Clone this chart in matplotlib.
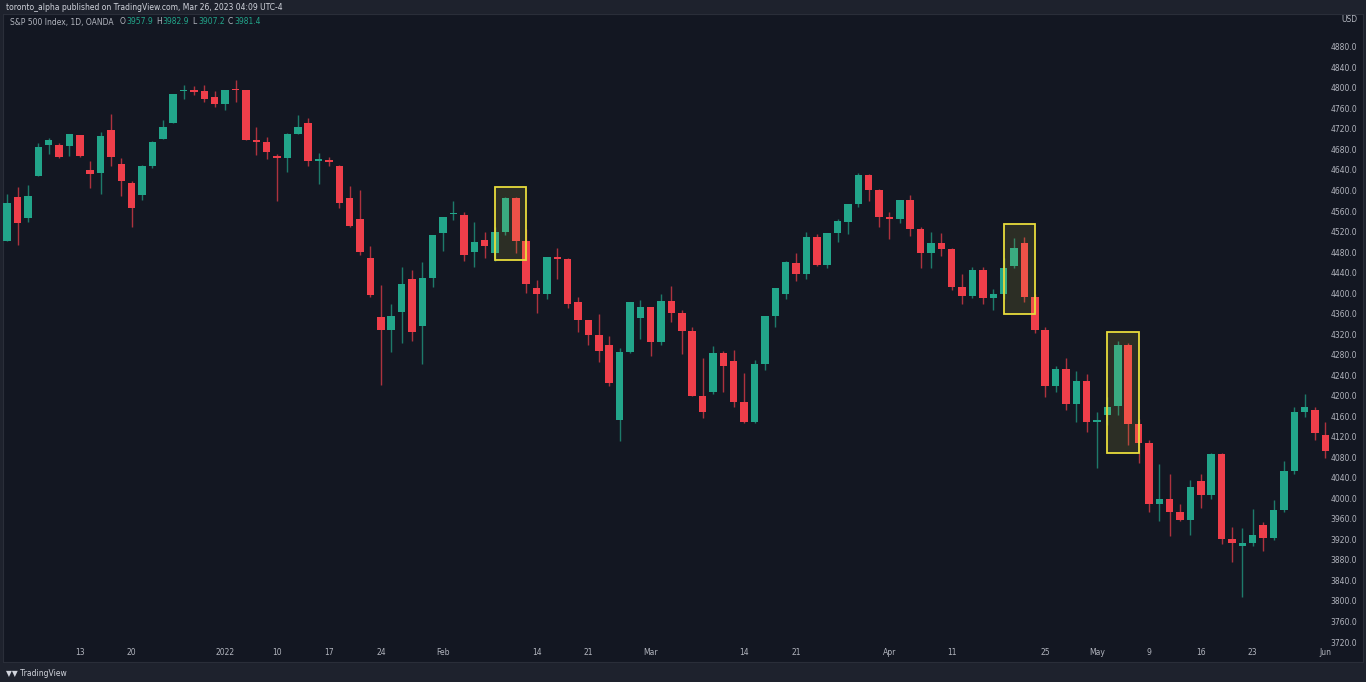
import matplotlib
matplotlib.use("Agg")
import matplotlib.pyplot as plt
import pandas as pd
from matplotlib.patches import Rectangle

dates = ["2021-12-02","2021-12-03","2021-12-06","2021-12-07","2021-12-08","2021-12-09","2021-12-10",
"2021-12-13","2021-12-14","2021-12-15","2021-12-16","2021-12-17","2021-12-20","2021-12-21","2021-12-22","2021-12-23",
"2021-12-27","2021-12-28","2021-12-29","2021-12-30","2021-12-31",
"2022-01-03","2022-01-04","2022-01-05","2022-01-06","2022-01-07","2022-01-10","2022-01-11","2022-01-12","2022-01-13","2022-01-14",
"2022-01-17","2022-01-18","2022-01-19","2022-01-20","2022-01-21","2022-01-24","2022-01-25","2022-01-26","2022-01-27","2022-01-28","2022-01-31",
"2022-02-01","2022-02-02","2022-02-03","2022-02-04","2022-02-07","2022-02-08","2022-02-09","2022-02-10","2022-02-11",
"2022-02-14","2022-02-15","2022-02-16","2022-02-17","2022-02-18","2022-02-21","2022-02-22","2022-02-23","2022-02-24","2022-02-25","2022-02-28",
"2022-03-01","2022-03-02","2022-03-03","2022-03-04","2022-03-07","2022-03-08","2022-03-09","2022-03-10","2022-03-11",
"2022-03-14","2022-03-15","2022-03-16","2022-03-17","2022-03-18","2022-03-21","2022-03-22","2022-03-23","2022-03-24","2022-03-25",
"2022-03-28","2022-03-29","2022-03-30","2022-03-31","2022-04-01","2022-04-04","2022-04-05","2022-04-06","2022-04-07","2022-04-08",
"2022-04-11","2022-04-12","2022-04-13","2022-04-14","2022-04-18","2022-04-19","2022-04-20","2022-04-21","2022-04-22",
"2022-04-25","2022-04-26","2022-04-27","2022-04-28","2022-04-29","2022-05-02","2022-05-03","2022-05-04","2022-05-05","2022-05-06",
"2022-05-09","2022-05-10","2022-05-11","2022-05-12","2022-05-13","2022-05-16","2022-05-17","2022-05-18","2022-05-19","2022-05-20",
"2022-05-23","2022-05-24","2022-05-25","2022-05-26","2022-05-27","2022-05-30","2022-05-31","2022-06-01"]

ohlc = [
(4504,4595,4504,4577),(4589,4608,4495,4538),(4548,4612,4540,4591),(4631,4694,4631,4686),(4690,4705,4674,4701),
(4691,4695,4665,4667),(4688,4713,4670,4712),(4710,4710,4667,4669),(4642,4660,4606,4634),(4637,4716,4596,4709),
(4719,4752,4650,4668),(4653,4666,4592,4620),(4617,4620,4531,4568),(4594,4651,4583,4649),(4650,4698,4645,4697),
(4703,4740,4703,4726),(4733,4791,4733,4791),(4795,4807,4780,4797),(4798,4805,4788,4793),(4795,4808,4775,4780),
(4785,4795,4765,4770),(4770,4796,4758,4797),(4800,4818,4774,4797),(4797,4797,4700,4701),(4700,4725,4671,4696),
(4697,4707,4663,4677),(4670,4673,4582,4665),(4665,4714,4638,4713),(4713,4749,4712,4726),(4733,4744,4650,4659),
(4660,4675,4614,4663),(4662,4668,4650,4657),(4650,4652,4568,4577),(4588,4611,4530,4533),(4547,4602,4477,4483),
(4471,4494,4395,4398),(4356,4417,4222,4330),(4330,4380,4287,4357),(4365,4453,4304,4420),(4430,4448,4309,4327),
(4337,4462,4264,4432),(4431,4516,4414,4516),(4519,4551,4484,4550),(4556,4582,4545,4558),(4555,4560,4465,4477),
(4482,4540,4452,4501),(4505,4521,4471,4494),(4480,4531,4465,4521),(4521,4590,4515,4587),(4587,4590,4480,4504),
(4504,4527,4402,4419),(4412,4427,4364,4401),(4401,4472,4390,4472),(4472,4490,4430,4468),(4468,4470,4373,4380),
(4384,4394,4327,4349),(4349,4350,4300,4320),(4320,4362,4267,4290),(4300,4319,4221,4226),(4155,4295,4114,4288),
(4288,4385,4286,4385),(4354,4388,4312,4374),(4374,4375,4279,4306),(4306,4401,4300,4387),(4387,4416,4345,4363),
(4363,4370,4284,4329),(4329,4335,4201,4201),(4202,4276,4158,4171),(4210,4299,4205,4285),(4285,4290,4209,4260),
(4270,4291,4180,4190),(4190,4247,4148,4150),(4150,4271,4148,4263),(4263,4358,4253,4358),(4358,4412,4335,4412),
(4400,4465,4390,4463),(4460,4481,4425,4440),(4440,4522,4430,4512),(4512,4518,4455,4456),(4456,4520,4450,4520),
(4520,4546,4501,4543),(4541,4575,4517,4575),(4575,4637,4570,4632),(4632,4635,4581,4602),(4602,4605,4530,4550),
(4550,4560,4507,4546),(4546,4583,4539,4583),(4583,4593,4514,4526),(4526,4530,4450,4481),(4481,4521,4450,4500),
(4500,4520,4474,4488),(4488,4490,4408,4413),(4413,4440,4381,4397),(4397,4453,4392,4447),(4447,4452,4381,4392),
(4392,4410,4370,4400),(4400,4471,4390,4450),(4455,4510,4450,4490),(4500,4512,4384,4394),(4394,4400,4325,4330),
(4330,4335,4200,4220),(4220,4260,4210,4255),(4255,4275,4175,4185),(4185,4250,4150,4230),(4230,4245,4132,4150),
(4150,4170,4062,4155),(4165,4200,4145,4180),(4181,4308,4164,4300),(4300,4305,4106,4147),(4147,4157,4070,4110),
(4110,4115,3975,3991),(3991,4068,3958,4001),(4001,4050,3928,3975),(3975,3990,3958,3960),(3960,4038,3930,4024),
(4035,4050,3984,4008),(4008,4090,4000,4088),(4088,4090,3913,3923),(3923,3946,3877,3915),(3910,3944,3810,3915),
(3915,3981,3909,3930),(3950,3956,3900,3925),(3925,3999,3920,3979),(3979,4075,3975,4055),(4055,4180,4050,4170),
(4170,4205,4160,4180),(4175,4180,4115,4130),(4125,4150,4080,4095),
]

tick_labels = ["13","20","2022","10","17","24","Feb","14","21","Mar","14","21","Apr","11","25","May","9","16","23","Jun"]
tick_dates = ["2021-12-13","2021-12-20","2022-01-03","2022-01-10","2022-01-17","2022-01-24","2022-02-01","2022-02-14",
              "2022-02-21","2022-03-01","2022-03-14","2022-03-21","2022-04-01","2022-04-11","2022-04-25","2022-05-02",
              "2022-05-09","2022-05-16","2022-05-23","2022-06-01"]
price_ticks = list(range(3720, 4881, 40))
box_starts = ["2022-02-08","2022-04-19","2022-05-03"]
box_ranges = [(4467,4608),(4362,4536),(4090,4326)]

df = pd.DataFrame(ohlc, columns=["o","h","l","c"], index=pd.to_datetime(dates))
pos = {d: i for i, d in enumerate(df.index)}

UP, DN, BG, OUT, TXT = "#22a58a", "#ef3e4a", "#131722", "#1e222d", "#b2b5be"
fig = plt.figure(figsize=(13.66, 6.82), dpi=100, facecolor=OUT)
W = 1360
ax = fig.add_axes([3/1366, 20/682, W/1366, 648/682], facecolor=BG)
for i, (o, h, l, c) in enumerate(df.itertuples(index=False)):
    col = UP if c >= o else DN
    ax.vlines(i, l, h, color=col, lw=1, alpha=0.7, zorder=2)
    ax.add_patch(Rectangle((i-0.36, min(o, c)), 0.72, max(abs(c-o), 2.5), color=col, lw=0, zorder=3))
for s, (lo, hi) in zip(box_starts, box_ranges):
    i0 = pos[pd.Timestamp(s)]
    ax.add_patch(Rectangle((i0, lo), 3, hi-lo, fill=True, fc="#e8dc3c", alpha=0.12, lw=0, zorder=4))
    ax.add_patch(Rectangle((i0, lo), 3, hi-lo, fill=False, ec="#e8dc3c", lw=1.3, zorder=5))
ax.set_xlim(-0.4, -0.4 + W/10.38)
ax.set_ylim(3683, 4946)
ax.set_xticks([]); ax.set_yticks([])
for sp in ax.spines.values():
    sp.set_color("#2a2e39")
xr = 1357/1363
for p in price_ticks:
    ax.text(xr, p, f"{p:.1f}", transform=ax.get_yaxis_transform(), ha="right", va="center", fontsize=5.5, color=TXT)
ax.text(xr, 4935, "USD", transform=ax.get_yaxis_transform(), ha="right", va="center", fontsize=5.5, color=TXT)
for lab, d in zip(tick_labels, tick_dates):
    ax.text(pos[pd.Timestamp(d)], 0.008, lab, transform=ax.get_xaxis_transform(), ha="center", va="bottom", fontsize=5.5, color=TXT)
fig.text(6/1366, 1-7/682, "toronto_alpha published on TradingView.com, Mar 26, 2023 04:09 UTC-4", fontsize=5.5, color="#d1d4dc", va="center")
fig.text(10/1366, 1-22/682, "S&P 500 Index, 1D, OANDA", fontsize=5.5, color=TXT, va="center")
x0 = 120/1366
for lab, val in [("O", "3957.9"), ("H", "3982.9"), ("L", "3907.2"), ("C", "3981.4")]:
    fig.text(x0, 1-22/682, lab, fontsize=5.5, color=TXT, va="center")
    fig.text(x0+6/1366, 1-22/682, val, fontsize=5.5, color=UP, va="center")
    x0 += 36/1366
fig.text(6/1366, 9/682, "\u25bc\u25bc TradingView", fontsize=5.5, color="#d1d4dc", va="center")
fig.savefig("out.png", dpi=100, facecolor=OUT)
